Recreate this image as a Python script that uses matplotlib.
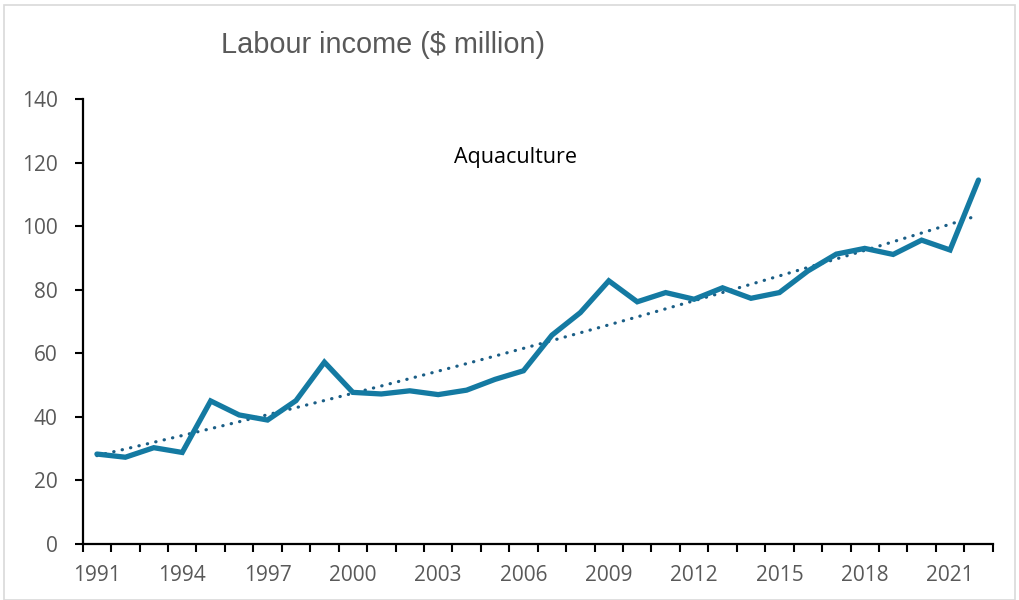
import numpy as np
import matplotlib
matplotlib.use("Agg")
import matplotlib.pyplot as plt
from matplotlib.patches import Rectangle

years = list(range(1991, 2023))
income = [28.3, 27.3, 30.3, 28.8, 45.0, 40.6, 39.0, 45.1, 57.2, 47.7,
          47.2, 48.2, 47.0, 48.4, 51.8, 54.5, 65.7, 72.8, 82.8, 76.2,
          79.1, 77.0, 80.6, 77.3, 79.1, 85.9, 91.2, 93.0, 91.1, 95.6,
          92.5, 114.5]
label_years = [1991, 1994, 1997, 2000, 2003, 2006, 2009, 2012, 2015, 2018, 2021]
y_ticks = [0, 20, 40, 60, 80, 100, 120, 140]
title = "Labour income ($ million)"
series_label = "Aquaculture"

line_color = "#147aa2"
trend_color = "#1a5e86"
text_gray = "#595959"

plt.rcParams['font.family'] = ['Open Sans', 'DejaVu Sans']

fig = plt.figure(figsize=(10.19, 6), dpi=100)
ax = fig.add_axes([82.7/1019, 56/600, (992.7-82.7)/1019, (544-99)/600])

x = np.arange(len(years))
ax.plot(x, income, color=line_color, lw=3.8, solid_joinstyle='miter', solid_capstyle='round', zorder=3)

# Excel-style polynomial (order 2) trendline
coef = np.polyfit(x, income, 2)
trend = np.polyval(coef, x)
ax.plot(x, trend, color=trend_color, lw=2.3, linestyle=(0, (0.1, 2.6)), dash_capstyle='round', zorder=2)

ax.set_xlim(-0.5, len(years) - 0.5)
ax.set_ylim(0, 140)
ax.set_yticks(y_ticks)
ax.set_yticklabels([str(v) for v in y_ticks])
ax.set_xticks(np.arange(-0.5, len(years), 1.0))
ax.set_xticklabels([])
ax.set_xticks([years.index(y) for y in label_years], minor=True)
ax.set_xticklabels([str(y) for y in label_years], minor=True)

ax.tick_params(axis='y', direction='out', length=6, width=1.5, colors='black',
               labelcolor=text_gray, labelsize=15, pad=12)
ax.tick_params(axis='x', which='major', direction='out', length=6, width=1.5, colors='black')
ax.tick_params(axis='x', which='minor', length=0, labelcolor=text_gray, labelsize=15, pad=15)

for s in ['top', 'right']:
    ax.spines[s].set_visible(False)
for s in ['left', 'bottom']:
    ax.spines[s].set_linewidth(1.6)
    ax.spines[s].set_color('black')

fig.text(383/1019, 1 - 45/600, title, ha='center', va='center', fontsize=20.8,
         color=text_gray, family=['Liberation Sans', 'DejaVu Sans'])
fig.text(516/1019, 1 - 157/600, series_label, ha='center', va='center', fontsize=15.5,
         color='black')

fig.patches.append(Rectangle((4/1019, 0), 1 - 8/1019, 1 - 5/600, transform=fig.transFigure,
                             fill=False, edgecolor='#d9d9d9', lw=1.2))

fig.savefig("out.png", dpi=100)
